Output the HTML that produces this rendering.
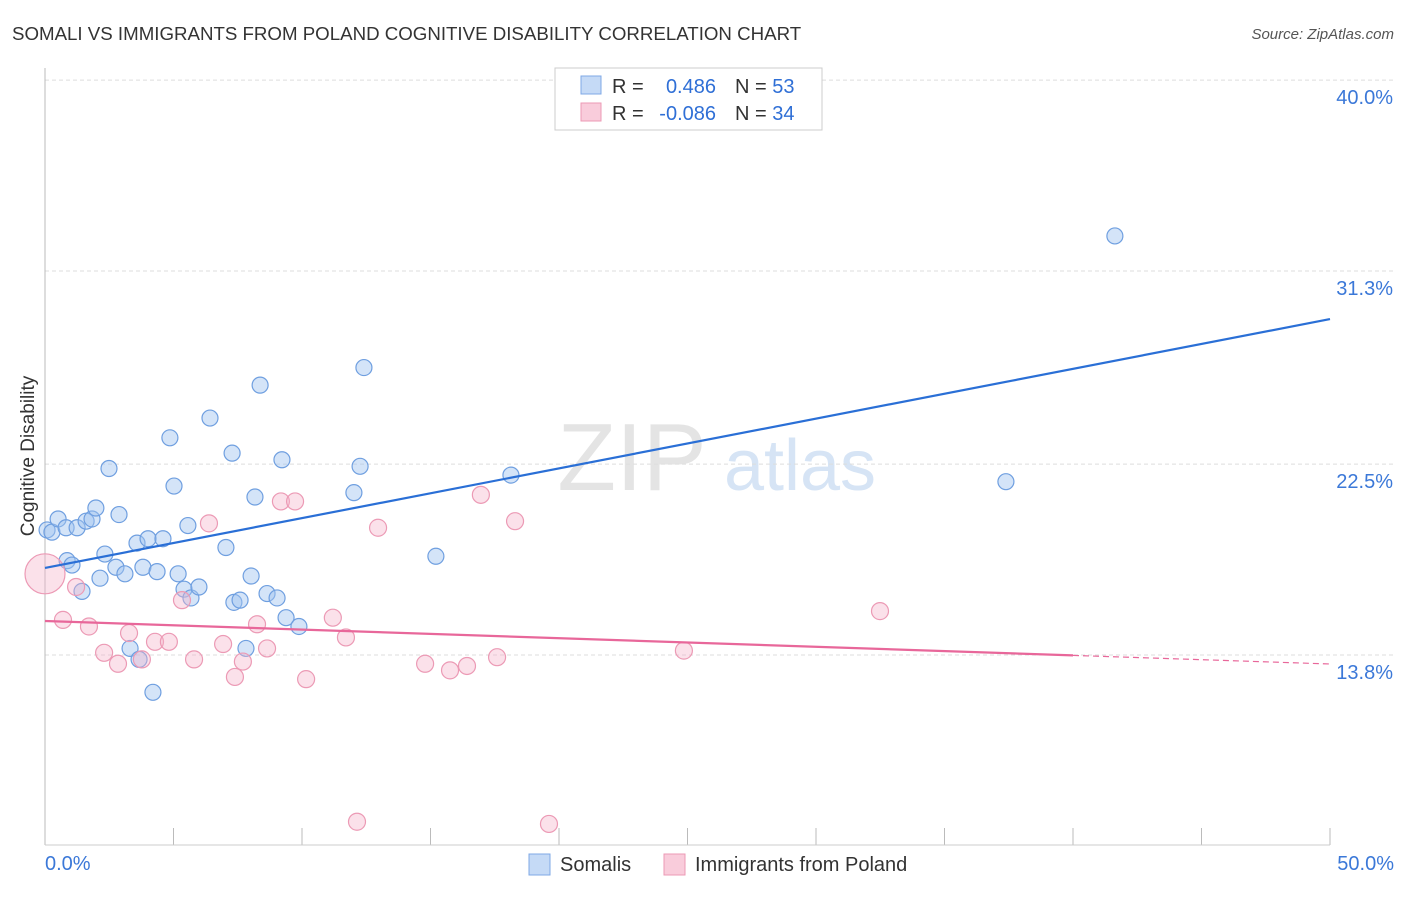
<!DOCTYPE html>
<html><head><meta charset="utf-8"><style>
body{margin:0;background:#fff;font-family:"Liberation Sans",sans-serif;}
svg text{font-family:"Liberation Sans",sans-serif;}
</style></head><body>
<svg id="c" width="1406" height="892">
<text x="12" y="40" font-size="18.7" fill="#333">SOMALI VS IMMIGRANTS FROM POLAND COGNITIVE DISABILITY CORRELATION CHART</text>
<text x="1394" y="39" font-size="15" fill="#555" font-style="italic" text-anchor="end">Source: ZipAtlas.com</text>
<g>
<text x="632" y="490" font-size="96" fill="#e4e4e4" font-family="Liberation Serif" text-anchor="middle">ZIP</text>
<text x="800" y="490" font-size="72" fill="#d6e4f5" text-anchor="middle">atlas</text>
</g>
<g id="grid"></g>
<line x1="45" y1="68" x2="45" y2="845" stroke="#bbb"/>
<line x1="45" y1="845" x2="1330" y2="845" stroke="#ccc"/>
<text x="0" y="0" transform="translate(34,456) rotate(-90)" font-size="19" fill="#333" text-anchor="middle">Cognitive Disability</text>
<text x="45" y="870" font-size="20" fill="#3b78d8">0.0%</text>
<text x="1394" y="870" font-size="20" fill="#3b78d8" text-anchor="end">50.0%</text>
<g id="lines"></g>
<g id="pts"></g>
<g>
<rect x="555" y="68" width="267" height="62" fill="#fff" stroke="#ccc"/>
<rect x="581" y="76" width="20" height="18" fill="#c5daf6" stroke="#7fa8e6"/>
<rect x="581" y="103" width="20" height="18" fill="#f9ccdb" stroke="#ec9ab5"/>
<text x="612" y="93" font-size="20" fill="#333">R =</text>
<text x="716" y="93" font-size="20" fill="#2f6fd6" text-anchor="end">0.486</text>
<text x="735" y="93" font-size="20" fill="#333">N = <tspan fill="#2f6fd6">53</tspan></text>
<text x="612" y="120" font-size="20" fill="#333">R =</text>
<text x="716" y="120" font-size="20" fill="#2f6fd6" text-anchor="end">-0.086</text>
<text x="735" y="120" font-size="20" fill="#333">N = <tspan fill="#2f6fd6">34</tspan></text>
</g>
<g>
<rect x="529" y="854" width="21" height="21" fill="#c5daf6" stroke="#7fa8e6"/>
<text x="560" y="871" font-size="20" fill="#333">Somalis</text>
<rect x="664" y="854" width="21" height="21" fill="#f9ccdb" stroke="#ec9ab5"/>
<text x="695" y="871" font-size="20" fill="#333">Immigrants from Poland</text>
</g>
</svg>
<script>
const yTicks=[13.8,22.5,31.3,40.0];
const xTicks=[0,5,10,15,20,25,30,35,40,45,50];
const somaliX=[0.08,0.27,0.51,0.82,0.86,1.05,1.25,1.44,1.6,1.83,1.98,2.14,2.33,2.49,2.76,2.88,3.11,3.31,3.58,3.66,3.81,4.01,4.2,4.36,4.59,4.86,5.02,5.18,5.41,5.56,5.68,5.99,6.42,7.04,7.28,7.35,7.59,7.82,8.02,8.17,8.37,8.64,9.03,9.22,9.38,9.88,12.02,12.26,12.41,15.21,18.13,37.39,41.63];
const somaliY=[19.5,19.4,20.0,19.6,18.1,17.9,19.6,16.7,19.9,20.0,20.5,17.3,18.4,22.3,17.8,20.2,17.5,14.1,18.9,13.6,17.8,19.1,12.1,17.6,19.1,23.7,21.5,17.5,16.8,19.7,16.4,16.9,24.6,18.7,23.0,16.2,16.3,14.1,17.4,21.0,26.1,16.6,16.4,22.7,15.5,15.1,21.2,22.4,26.9,18.3,22.0,21.7,32.9];
const polandX=[0.0,0.7,1.21,1.71,2.3,2.84,3.27,3.77,4.28,4.82,5.33,5.8,6.38,6.93,7.39,7.7,8.25,8.64,9.18,9.73,10.16,11.2,11.71,12.14,12.96,14.79,15.76,16.42,16.96,17.59,18.29,19.61,24.86,32.49];
const polandY=[17.5,15.4,16.9,15.1,13.9,13.4,14.8,13.6,14.4,14.4,16.3,13.6,19.8,14.3,12.8,13.5,15.2,14.1,20.8,20.8,12.7,15.5,14.6,6.2,19.6,13.4,13.1,13.3,21.1,13.7,19.9,6.1,14.0,15.8];
const polandSize=[20,10,10,10,10,10,10,10,10,10,10,10,10,10,10,10,10,10,10,10,10,10,10,10,10,10,10,10,10,10,10,10,10,10];
const blueTrend=[17.77,29.11];
const pinkTrend=[15.35,13.39];
const pinkSolidEnd=40;
const X=v=>45+v/50*1285;
const Y=v=>655-(v-13.8)*21.94;
const NS="http://www.w3.org/2000/svg";
function mk(t,a,p){const e=document.createElementNS(NS,t);for(const k in a)e.setAttribute(k,a[k]);p.appendChild(e);return e;}
const grid=document.getElementById('grid');
yTicks.forEach(t=>{
 const l=mk('line',{x1:45,x2:1393,y1:Y(t),y2:Y(t),stroke:'#ddd','stroke-dasharray':'4,3'},grid);
 
 
 const tx=mk('text',{x:1393,y:Y(t)+24,'font-size':20,fill:'#3b78d8','text-anchor':'end'},grid);
 tx.textContent=t.toFixed(1)+'%';
 
 
});
xTicks.forEach(t=>{
 const l=mk('line',{x1:X(t),x2:X(t),y1:828,y2:845,stroke:'#bbb'},grid);
 
 
});
const pts=document.getElementById('pts');
somaliX.forEach((x,i)=>{
 const c=mk('circle',{cx:X(x),cy:Y(somaliY[i]),r:8,fill:'rgba(160,196,240,0.45)',stroke:'#6f9fe0','stroke-width':1.2},pts);
 
 
});
polandX.forEach((x,i)=>{
 const c=mk('circle',{cx:X(x),cy:Y(polandY[i]),r:polandSize[i]==20?20:8.5,fill:'rgba(246,180,202,0.4)',stroke:'#ec9ab5','stroke-width':1.2},pts);
 
 
});
const bl=mk('line',{x1:X(0),y1:Y(blueTrend[0]),x2:X(50),y2:Y(blueTrend[1]),stroke:'#2a6fd6','stroke-width':2.2},pts);


const pAt=v=>pinkTrend[0]+(pinkTrend[1]-pinkTrend[0])*v/50;
const pl=mk('line',{x1:X(0),y1:Y(pAt(0)),x2:X(pinkSolidEnd),y2:Y(pAt(pinkSolidEnd)),stroke:'#e8679a','stroke-width':2.2},pts);


const pd=mk('line',{x1:X(pinkSolidEnd),y1:Y(pAt(pinkSolidEnd)),x2:X(50),y2:Y(pAt(50)),stroke:'#e8679a','stroke-width':1.2,'stroke-dasharray':'6,4'},pts);


</script>
</body></html>
